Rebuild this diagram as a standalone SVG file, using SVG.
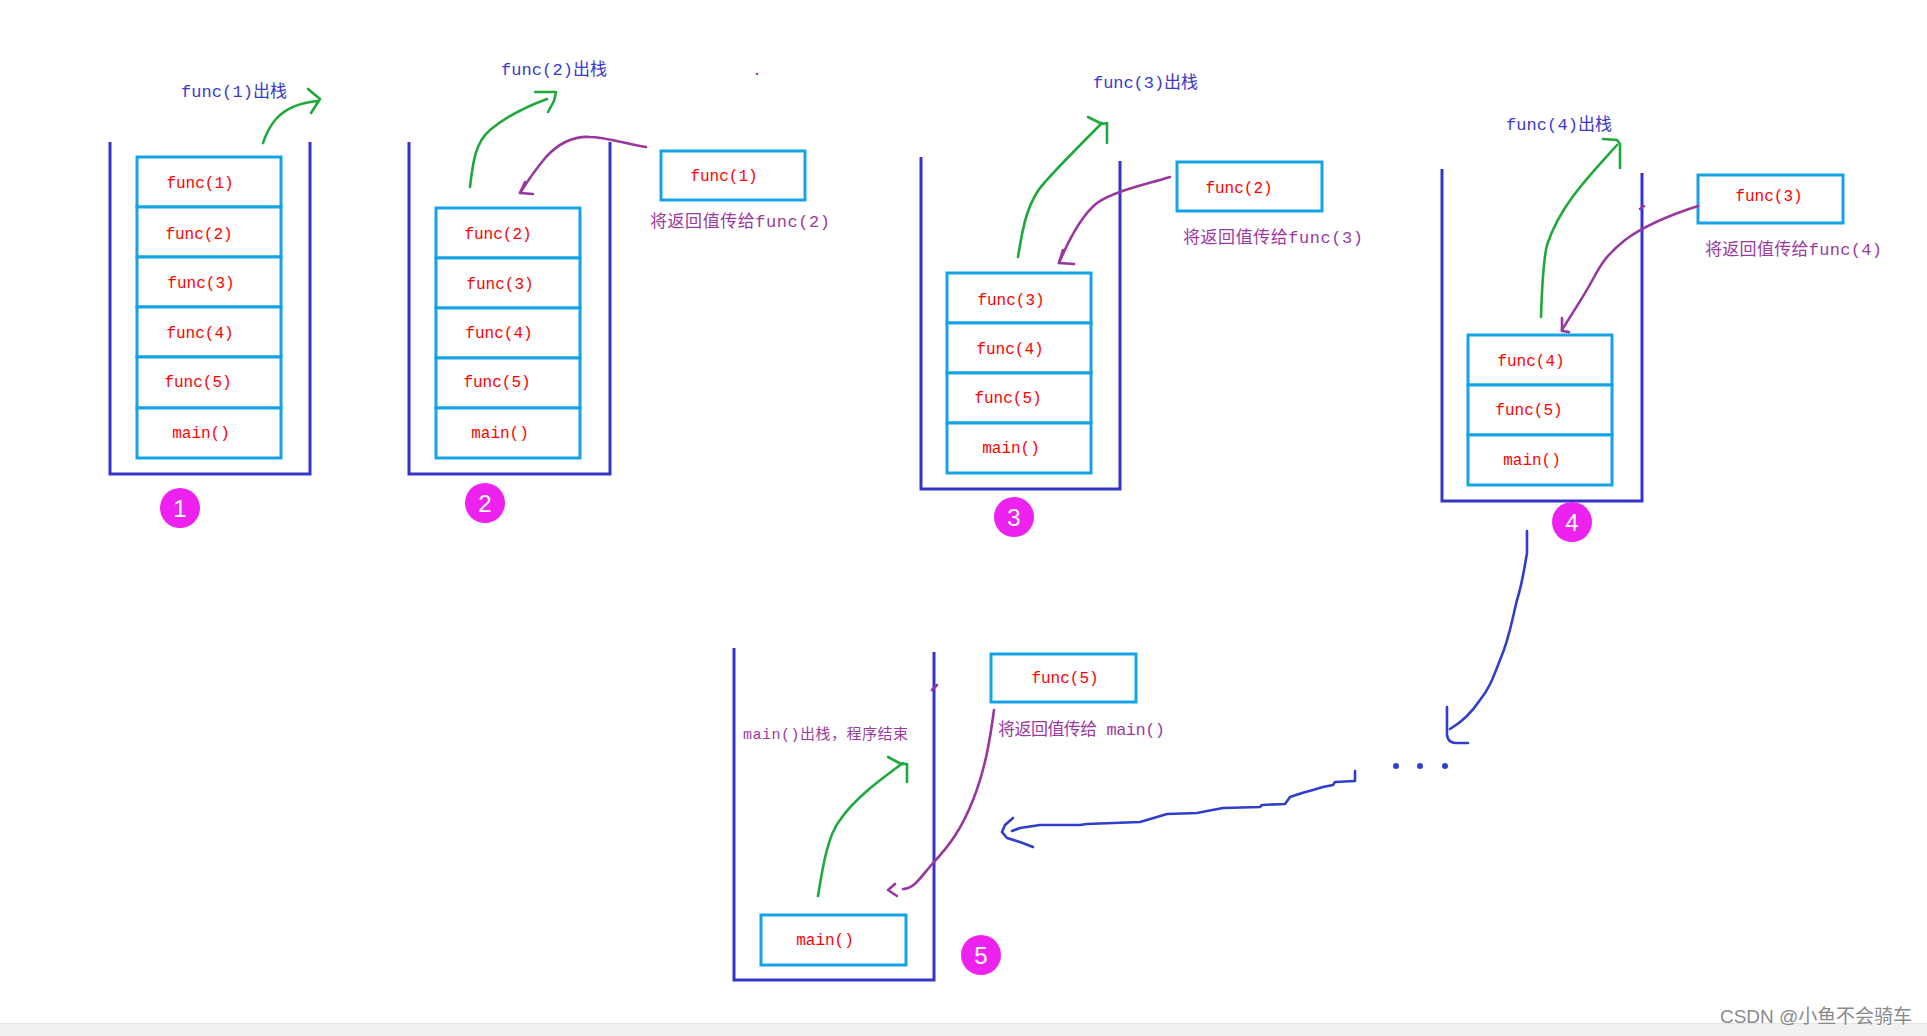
<svg xmlns="http://www.w3.org/2000/svg" width="1927" height="1036" viewBox="0 0 1927 1036">
<style>
.wall{fill:none;stroke:#3434c9;stroke-width:3;stroke-linejoin:miter}
.frame{fill:#ffffff;stroke:#16a3e6;stroke-width:3}
.ft{font-family:"Liberation Mono","Noto Sans CJK SC",monospace;font-size:16px;fill:#ff0000;text-anchor:middle}
.pop{font-family:"Liberation Mono","Noto Sans CJK SC",monospace;font-size:17px;fill:#3a3acc}
.ret{font-family:"Liberation Mono","Noto Sans CJK SC",monospace;font-size:17px;fill:#9a3aa0}
.badge{fill:#ee22ee}
.num{font-family:"Liberation Sans",Arial,sans-serif;font-size:24px;fill:#ffffff;text-anchor:middle}
.g{fill:none;stroke:#1fa83c;stroke-width:2.6;stroke-linecap:round;stroke-linejoin:round}
.p{fill:none;stroke:#98379e;stroke-width:2.6;stroke-linecap:round;stroke-linejoin:round}
.b{fill:none;stroke:#2f3fcc;stroke-width:2.6;stroke-linecap:round;stroke-linejoin:round}
</style>
<rect width="1927" height="1036" fill="#ffffff"/>
<rect x="0" y="1023" width="1927" height="1" fill="#e4e4e4"/>
<rect x="0" y="1024" width="1927" height="12" fill="#f1f1f2"/>

<g id="stack1">
<path class="wall" d="M110,142 L110,474 L310,474 L310,142"/>
<rect class="frame" x="137" y="157" width="144" height="50"/>
<rect class="frame" x="137" y="207" width="144" height="50"/>
<rect class="frame" x="137" y="257" width="144" height="50"/>
<rect class="frame" x="137" y="307" width="144" height="50"/>
<rect class="frame" x="137" y="357" width="144" height="51"/>
<rect class="frame" x="137" y="408" width="144" height="50"/>
<text class="ft" x="200" y="188">func(1)</text>
<text class="ft" x="199" y="239">func(2)</text>
<text class="ft" x="201" y="288">func(3)</text>
<text class="ft" x="200" y="338">func(4)</text>
<text class="ft" x="198" y="387">func(5)</text>
<text class="ft" x="201" y="438">main()</text>
</g>

<g id="stack2">
<path class="wall" d="M409,142 L409,474 L610,474 L610,142"/>
<rect class="frame" x="436" y="208" width="144" height="50"/>
<rect class="frame" x="436" y="258" width="144" height="50"/>
<rect class="frame" x="436" y="308" width="144" height="50"/>
<rect class="frame" x="436" y="358" width="144" height="50"/>
<rect class="frame" x="436" y="408" width="144" height="50"/>
<text class="ft" x="498" y="239">func(2)</text>
<text class="ft" x="500" y="289">func(3)</text>
<text class="ft" x="499" y="338">func(4)</text>
<text class="ft" x="497" y="387">func(5)</text>
<text class="ft" x="500" y="438">main()</text>
</g>

<g id="stack3">
<path class="wall" d="M921,157 L921,489 L1120,489 L1120,161"/>
<rect class="frame" x="947" y="273" width="144" height="50"/>
<rect class="frame" x="947" y="323" width="144" height="50"/>
<rect class="frame" x="947" y="373" width="144" height="50"/>
<rect class="frame" x="947" y="423" width="144" height="50"/>
<text class="ft" x="1011" y="305">func(3)</text>
<text class="ft" x="1010" y="354">func(4)</text>
<text class="ft" x="1008" y="403">func(5)</text>
<text class="ft" x="1011" y="453">main()</text>
</g>

<g id="stack4">
<path class="wall" d="M1442,169 L1442,501 L1642,501 L1642,173"/>
<rect class="frame" x="1468" y="335" width="144" height="50"/>
<rect class="frame" x="1468" y="385" width="144" height="50"/>
<rect class="frame" x="1468" y="435" width="144" height="50"/>
<text class="ft" x="1531" y="366">func(4)</text>
<text class="ft" x="1529" y="415">func(5)</text>
<text class="ft" x="1532" y="465">main()</text>
</g>

<g id="stack5">
<path class="wall" d="M734,648 L734,980 L934,980 L934,652"/>
<rect class="frame" x="761" y="915" width="145" height="50"/>
<text class="ft" x="825" y="945">main()</text>
</g>

<g id="ret1">
<rect class="frame" x="661" y="151" width="144" height="49"/>
<text class="ft" x="724" y="181">func(1)</text>
</g>
<g id="ret2">
<rect class="frame" x="1177" y="162" width="145" height="49"/>
<text class="ft" x="1239" y="193">func(2)</text>
</g>
<g id="ret3">
<rect class="frame" x="1698" y="175" width="145" height="48"/>
<text class="ft" x="1769" y="201">func(3)</text>
</g>
<g id="ret5">
<rect class="frame" x="991" y="654" width="145" height="48"/>
<text class="ft" x="1065" y="683">func(5)</text>
</g>

<g id="labels">
<text class="pop" x="181" y="97" textLength="106">func(1)出栈</text>
<text class="pop" x="501" y="75" textLength="106">func(2)出栈</text>
<text class="pop" x="1093" y="88" textLength="105">func(3)出栈</text>
<text class="pop" x="1506" y="130" textLength="106">func(4)出栈</text>
<text class="ret" x="650" y="227" textLength="180">将返回值传给func(2)</text>
<text class="ret" x="1183" y="243" textLength="180">将返回值传给func(3)</text>
<text class="ret" x="1705" y="255" textLength="177">将返回值传给func(4)</text>
<text class="ret" x="998" y="735" textLength="167">将返回值传给 main()</text>
<text class="ret" x="743" y="739" style="font-size:15px" textLength="165">main()出栈，程序结束</text>
</g>

<g id="badge1"><circle class="badge" cx="180" cy="508" r="20"/><text class="num" x="180" y="517">1</text></g>
<g id="badge2"><circle class="badge" cx="485" cy="503" r="20"/><text class="num" x="485" y="512">2</text></g>
<g id="badge3"><circle class="badge" cx="1014" cy="517" r="20"/><text class="num" x="1014" y="526">3</text></g>
<g id="badge4"><circle class="badge" cx="1572" cy="522" r="20"/><text class="num" x="1572" y="531">4</text></g>
<g id="badge5"><circle class="badge" cx="981" cy="955" r="20"/><text class="num" x="981" y="964">5</text></g>

<g id="connectors">
<path class="g" d="M263,143 C266,134 270,126 276,119 C284,110 298,103 317,101"/>
<path class="g" d="M308,89 L320,99 L311,113"/>
<path class="g" d="M470,187 C473,160 476,142 490,130 C508,115 528,106 547,99"/>
<path class="g" d="M535,92 L556,92 L554,101 L548,112"/>
<path class="g" d="M1018,257 C1023,225 1028,200 1045,182 C1060,165 1080,145 1102,123"/>
<path class="g" d="M1088,117 L1102,124 L1107,123 L1107,143"/>
<path class="g" d="M1541,317 C1542,285 1543,262 1547,245 C1560,205 1590,175 1617,145"/>
<path class="g" d="M1603,139 L1617,140 L1620,144 L1620,168"/>
<path class="g" d="M818,896 C823,865 828,835 840,820 C855,798 880,780 903,763"/>
<path class="g" d="M888,757 L901,764 L907,764 L907,782"/>

<path class="p" d="M646,147 C620,142 602,137 590,137 C572,136 558,144 546,157 C535,170 527,182 520,193"/>
<path class="p" d="M525,182 L520,193 L533,194"/>
<path class="p" d="M1170,177 C1140,186 1112,192 1097,203 C1082,215 1070,237 1059,263"/>
<path class="p" d="M1063,250 L1059,263 L1074,264"/>
<path class="p" d="M1698,206 C1670,215 1645,225 1625,240 C1606,255 1600,266 1593,279 C1584,296 1571,315 1562,330"/>
<path class="p" d="M1562,318 L1562,331 L1569,332"/>
<path class="p" d="M994,710 C990,740 985,770 973,800 C962,828 950,845 933,863 C920,878 914,889 903,889"/>
<path class="p" d="M895,884 L888,890 L897,896"/>
<path class="p" d="M932,690 L937,685"/>
<path class="p" d="M1640,209 L1644,206"/>
<circle cx="757" cy="74" r="1.2" fill="#98379e"/>

<path class="b" d="M1527,531 L1527,553 C1524,570 1522,585 1517,600 C1512,620 1509,640 1500,660 C1494,675 1490,688 1480,700 C1472,712 1462,722 1450,729"/>
<path class="b" d="M1447,707 L1447,735 Q1448,743 1456,743 L1468,743"/>
<path class="b" d="M1355,771 L1355,781 L1335,782 L1333,785 L1323,787 L1313,790 L1302,793 L1290,797 L1285,804 L1262,805 L1260,807 L1223,808 L1207,811 L1197,813 L1167,814 L1157,817 L1140,822 L1087,824 L1080,825 L1040,825 L1020,828 L1012,831"/>
<path class="b" d="M1013,818 L1005,825 L1002,832 L1007,838 L1020,842 L1033,847"/>
<circle cx="1396" cy="766" r="3" fill="#2f3fcc"/>
<circle cx="1420" cy="766" r="3" fill="#2f3fcc"/>
<circle cx="1445" cy="766" r="3" fill="#2f3fcc"/>
</g>

<text x="1720" y="1023" textLength="192" style="font-family:'Liberation Sans','Noto Sans CJK SC',sans-serif;font-size:19px;fill:#8a8a8a">CSDN @小鱼不会骑车</text>
</svg>
